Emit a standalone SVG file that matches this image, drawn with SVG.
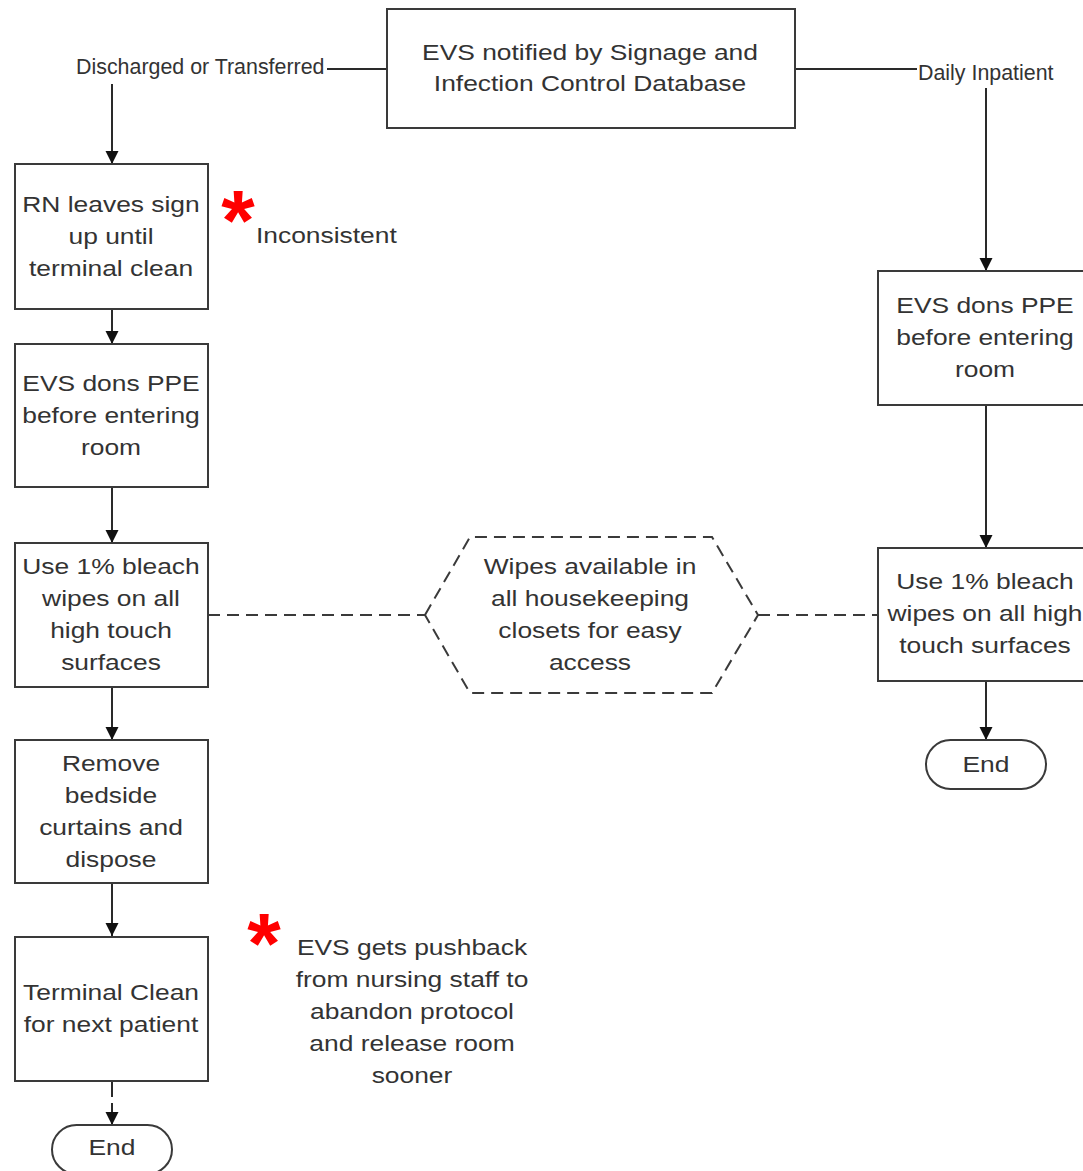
<svg xmlns="http://www.w3.org/2000/svg" width="1083" height="1171" viewBox="0 0 1083 1171">
<style>
.box{fill:#fff;stroke:#3a3a3a;stroke-width:2}
.ln{fill:none;stroke:#2a2a2a;stroke-width:2}
.dash{fill:none;stroke:#3a3a3a;stroke-width:2;stroke-dasharray:12 7}
.t{font-family:"Liberation Sans",Arial,sans-serif;font-size:22px;fill:#333;text-anchor:middle}
.ts{font-family:"Liberation Sans",Arial,sans-serif;font-size:22px;fill:#333}
.lbl{font-family:"Liberation Sans",Arial,sans-serif;font-size:21.4px;fill:#333}
.star{font-family:"Liberation Sans",Arial,sans-serif;font-size:86px;font-weight:bold;fill:#ff0000;text-anchor:middle}
</style>
<defs>
<marker id="ah" markerUnits="userSpaceOnUse" markerWidth="14" markerHeight="14" refX="13" refY="6.5" orient="auto">
<path d="M0,0 L13,6.5 L0,13 z" fill="#111"/>
</marker>
</defs>
<rect width="1083" height="1171" fill="#fff"/>

<g id="connectors">
<line class="ln" x1="327" y1="69" x2="387" y2="69"/>
<line class="ln" x1="795" y1="69" x2="917" y2="69"/>
<line class="ln" x1="112" y1="84" x2="112" y2="164" marker-end="url(#ah)"/>
<line class="ln" x1="986" y1="88" x2="986" y2="271" marker-end="url(#ah)"/>
<line class="ln" x1="112" y1="309" x2="112" y2="344" marker-end="url(#ah)"/>
<line class="ln" x1="112" y1="487" x2="112" y2="543" marker-end="url(#ah)"/>
<line class="ln" x1="112" y1="687" x2="112" y2="740" marker-end="url(#ah)"/>
<line class="ln" x1="112" y1="883" x2="112" y2="936" marker-end="url(#ah)"/>
<line class="ln" x1="112" y1="1081" x2="112" y2="1097"/>
<line class="ln" x1="112" y1="1103" x2="112" y2="1125" marker-end="url(#ah)"/>
<line class="ln" x1="986" y1="405" x2="986" y2="548" marker-end="url(#ah)"/>
<line class="ln" x1="986" y1="681" x2="986" y2="740" marker-end="url(#ah)"/>
<line class="dash" x1="208" y1="615" x2="425" y2="615"/>
<line class="dash" x1="758" y1="615" x2="878" y2="615"/>
</g>

<g id="labels">
<text class="lbl" x="76" y="74">Discharged or Transferred</text>
<text class="lbl" x="918" y="80">Daily Inpatient</text>
</g>

<g id="start">
<rect class="box" x="387" y="9" width="408" height="119"/>
<text class="t" transform="translate(590 0) scale(1.2 1)" x="0" y="60">EVS notified by Signage and</text>
<text class="t" transform="translate(590 0) scale(1.2 1)" x="0" y="91">Infection Control Database</text>
</g>

<g id="rn-sign">
<rect class="box" x="15" y="164" width="193" height="145"/>
<text class="t" transform="translate(111 0) scale(1.2 1)" x="0" y="212">RN leaves sign</text>
<text class="t" transform="translate(111 0) scale(1.2 1)" x="0" y="244">up until</text>
<text class="t" transform="translate(111 0) scale(1.2 1)" x="0" y="276">terminal clean</text>
</g>

<g id="note-inconsistent">
<text class="star" x="238" y="250">*</text>
<text class="ts" transform="translate(256 0) scale(1.2 1)" x="0" y="243">Inconsistent</text>
</g>

<g id="ppe-left">
<rect class="box" x="15" y="344" width="193" height="143"/>
<text class="t" transform="translate(111 0) scale(1.2 1)" x="0" y="391">EVS dons PPE</text>
<text class="t" transform="translate(111 0) scale(1.2 1)" x="0" y="423">before entering</text>
<text class="t" transform="translate(111 0) scale(1.2 1)" x="0" y="455">room</text>
</g>

<g id="bleach-left">
<rect class="box" x="15" y="543" width="193" height="144"/>
<text class="t" transform="translate(111 0) scale(1.2 1)" x="0" y="574">Use 1% bleach</text>
<text class="t" transform="translate(111 0) scale(1.2 1)" x="0" y="606">wipes on all</text>
<text class="t" transform="translate(111 0) scale(1.2 1)" x="0" y="638">high touch</text>
<text class="t" transform="translate(111 0) scale(1.2 1)" x="0" y="670">surfaces</text>
</g>

<g id="curtains">
<rect class="box" x="15" y="740" width="193" height="143"/>
<text class="t" transform="translate(111 0) scale(1.2 1)" x="0" y="771">Remove</text>
<text class="t" transform="translate(111 0) scale(1.2 1)" x="0" y="803">bedside</text>
<text class="t" transform="translate(111 0) scale(1.2 1)" x="0" y="835">curtains and</text>
<text class="t" transform="translate(111 0) scale(1.2 1)" x="0" y="867">dispose</text>
</g>

<g id="terminal-clean">
<rect class="box" x="15" y="937" width="193" height="144"/>
<text class="t" transform="translate(111 0) scale(1.2 1)" x="0" y="1000">Terminal Clean</text>
<text class="t" transform="translate(111 0) scale(1.2 1)" x="0" y="1032">for next patient</text>
</g>

<g id="end-left">
<rect class="box" x="52" y="1125" width="120" height="49" rx="24.5" ry="24.5"/>
<text class="t" transform="translate(112 0) scale(1.2 1)" x="0" y="1155">End</text>
</g>

<g id="note-pushback">
<text class="star" x="264" y="973">*</text>
<text class="t" transform="translate(412 0) scale(1.2 1)" x="0" y="955">EVS gets pushback</text>
<text class="t" transform="translate(412 0) scale(1.2 1)" x="0" y="987">from nursing staff to</text>
<text class="t" transform="translate(412 0) scale(1.2 1)" x="0" y="1019">abandon protocol</text>
<text class="t" transform="translate(412 0) scale(1.2 1)" x="0" y="1051">and release room</text>
<text class="t" transform="translate(412 0) scale(1.2 1)" x="0" y="1083">sooner</text>
</g>

<g id="wipes-hex">
<polygon class="dash" points="425,615 470,537 712,537 758,615 712,693 470,693" fill="#fff"/>
<text class="t" transform="translate(590 0) scale(1.2 1)" x="0" y="574">Wipes available in</text>
<text class="t" transform="translate(590 0) scale(1.2 1)" x="0" y="606">all housekeeping</text>
<text class="t" transform="translate(590 0) scale(1.2 1)" x="0" y="638">closets for easy</text>
<text class="t" transform="translate(590 0) scale(1.2 1)" x="0" y="670">access</text>
</g>

<g id="ppe-right">
<rect class="box" x="878" y="271" width="215" height="134"/>
<text class="t" transform="translate(985 0) scale(1.2 1)" x="0" y="313">EVS dons PPE</text>
<text class="t" transform="translate(985 0) scale(1.2 1)" x="0" y="345">before entering</text>
<text class="t" transform="translate(985 0) scale(1.2 1)" x="0" y="377">room</text>
</g>

<g id="bleach-right">
<rect class="box" x="878" y="548" width="215" height="133"/>
<text class="t" transform="translate(985 0) scale(1.2 1)" x="0" y="589">Use 1% bleach</text>
<text class="t" transform="translate(985 0) scale(1.2 1)" x="0" y="621">wipes on all high</text>
<text class="t" transform="translate(985 0) scale(1.2 1)" x="0" y="653">touch surfaces</text>
</g>

<g id="end-right">
<rect class="box" x="926" y="740" width="120" height="49" rx="24.5" ry="24.5"/>
<text class="t" transform="translate(986 0) scale(1.2 1)" x="0" y="772">End</text>
</g>
</svg>
